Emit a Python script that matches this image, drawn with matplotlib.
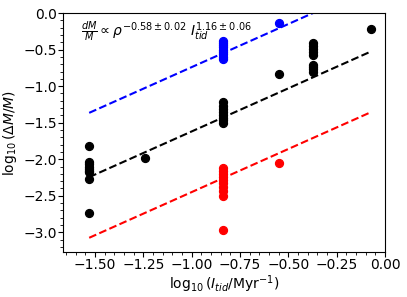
import numpy as np
import matplotlib
matplotlib.use("Agg")
import matplotlib.pyplot as plt

# black points
bx = [-1.53]*9 + [-1.24] + [-0.84]*8 + [-0.55] + [-0.37]*9 + [-0.07]
by = [-1.82, -2.04, -2.07, -2.10, -2.13, -2.16, -2.18, -2.27, -2.73,
      -1.99,
      -1.22, -1.27, -1.31, -1.35, -1.39, -1.43, -1.47, -1.50,
      -0.84,
      -0.41, -0.45, -0.49, -0.53, -0.57, -0.71, -0.74, -0.77, -0.80,
      -0.22]
# blue points
ux = [-0.84]*9 + [-0.55]
uy = [-0.38, -0.41, -0.44, -0.47, -0.50, -0.53, -0.56, -0.60, -0.63, -0.13]
# red points
rx = [-0.84]*10 + [-0.55]
ry = [-2.12, -2.16, -2.20, -2.24, -2.28, -2.33, -2.38, -2.44, -2.50, -2.97, -2.05]

slope = 1.18
intercepts = {"k": -0.44, "b": 0.44, "r": -1.27}
fit_x = [-1.53, -0.07]

fig = plt.figure(figsize=(4.07, 2.97), dpi=100)
ax = fig.add_axes([0.155, 0.1515, 0.791, 0.8045])

ax.scatter(bx, by, color="k", s=32, zorder=3)
ax.scatter(ux, uy, color="b", s=32, zorder=3)
ax.scatter(rx, ry, color="r", s=32, zorder=3)
xx = np.array(fit_x)
for c, b in intercepts.items():
    ax.plot(xx, slope*xx + b, "--", color=c)

ax.set_xlim(-1.665, 0.0)
ax.set_ylim(-3.27, 0.0)
ax.minorticks_on()
ax.tick_params(which="major", length=3.5, pad=1.0, labelsize=10)
ax.tick_params(which="minor", length=2)
ax.set_xlabel(r"$\log_{10}(I_{tid}/\mathrm{Myr}^{-1})$", fontsize=10, labelpad=1)
ax.set_ylabel(r"$\log_{10}(\Delta M/M)$", fontsize=10, labelpad=3)
ax.text(0.055, 0.975, r"$\frac{dM}{M} \propto \rho^{-0.58\pm0.02}\ I_{tid}^{1.16\pm0.06}$",
        transform=ax.transAxes, fontsize=10, va="top")

fig.savefig("out.png", dpi=100)
